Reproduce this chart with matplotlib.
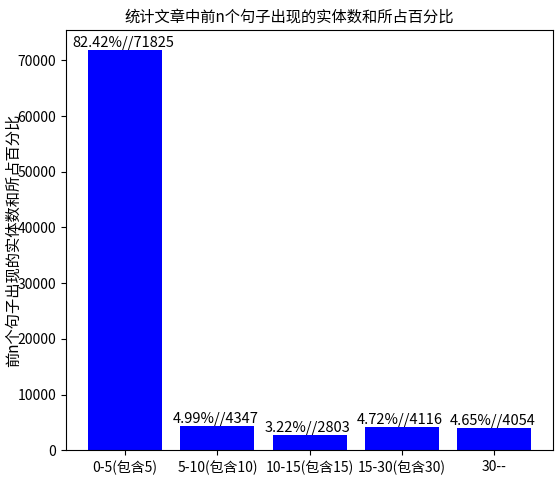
import matplotlib
matplotlib.use('Agg')
import matplotlib.pyplot as plt

plt.rcParams['font.family'] = ['Noto Sans CJK SC', 'DejaVu Sans']
plt.rcParams['axes.unicode_minus'] = False

# 数据
categories = ['0-5(包含5)', '5-10(包含10)', '10-15(包含15)', '15-30(包含30)', '30--']
counts = [71825, 4347, 2803, 4116, 4054]
percents = ['82.42%', '4.99%', '3.22%', '4.72%', '4.65%']

fig, ax = plt.subplots(figsize=(5.6, 4.78), dpi=100)
x = range(len(categories))
ax.bar(x, counts, width=0.8, color='blue')

for i, c, p in zip(x, counts, percents):
    ax.text(i - 0.02, c, f'{p}//{c}', ha='center', va='bottom', fontsize=10.5)

ax.set_xticks(list(x))
ax.set_xticklabels(categories, fontsize=10)
ax.tick_params(axis='y', labelsize=10)
ax.set_ylabel('前n个句子出现的实体数和所占百分比', fontsize=11)
ax.yaxis.set_label_coords(-0.092, 0.5)
# 标题在原图中略偏左
ax.set_title('统计文章中前n个句子出现的实体数和所占百分比', fontsize=11, x=0.458)

fig.subplots_adjust(left=0.118, right=0.988, top=0.937, bottom=0.058)
fig.savefig('out.png', dpi=100)
